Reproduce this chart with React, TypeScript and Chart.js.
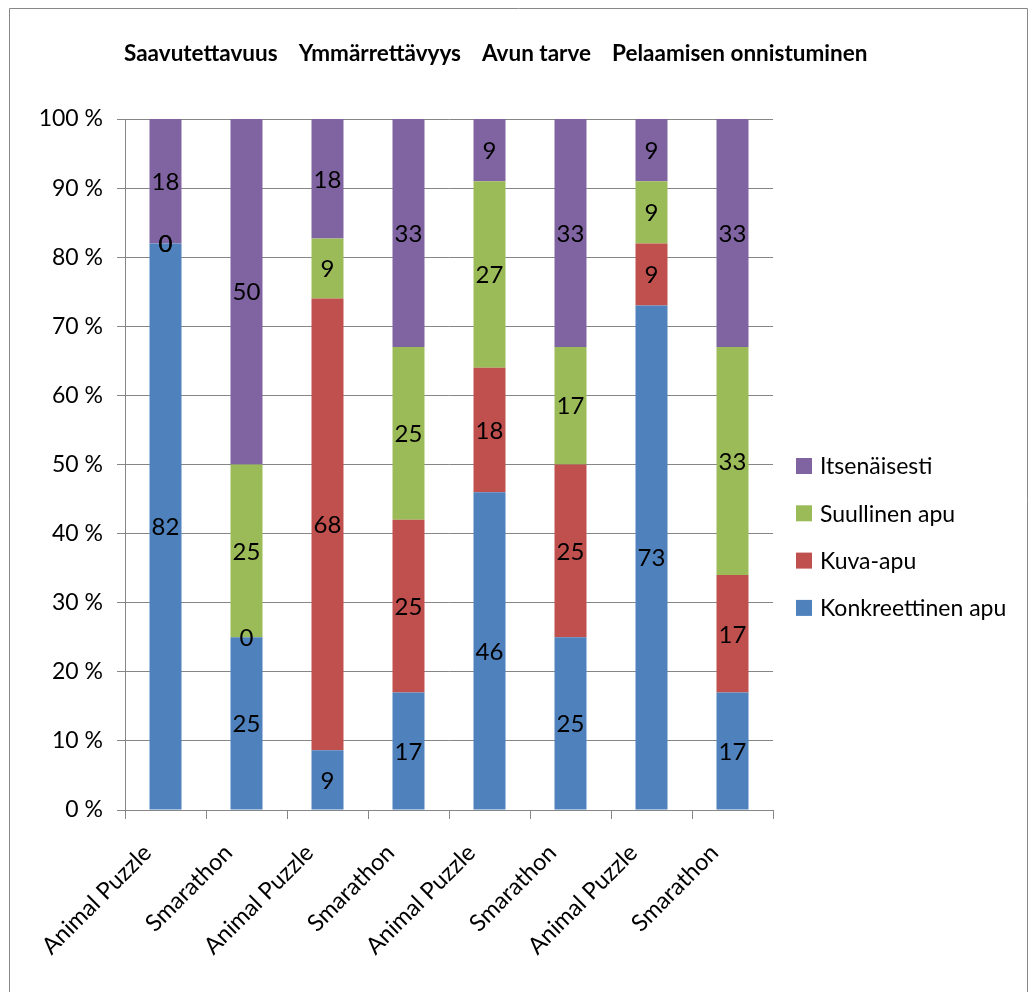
import React, { useEffect, useRef } from "react";
import { Chart, registerables } from "chart.js";

Chart.register(...registerables);

const categories = [
  "Animal Puzzle",
  "Smarathon",
  "Animal Puzzle",
  "Smarathon",
  "Animal Puzzle",
  "Smarathon",
  "Animal Puzzle",
  "Smarathon",
];

const titleParts = ["Saavutettavuus", "Ymmärrettävyys", "Avun tarve", "Pelaamisen onnistuminen"];

const konkreettinen = [82, 25, 9, 17, 46, 25, 73, 17];
const kuvaApu = [0, 0, 68, 25, 18, 25, 9, 17];
const suullinen = [0, 25, 9, 25, 27, 17, 9, 33];
const itsenaisesti = [18, 50, 18, 33, 9, 33, 9, 33];

const yTicks = [0, 10, 20, 30, 40, 50, 60, 70, 80, 90, 100];

const FONT = "Lato, 'Open Sans', sans-serif";

const series = [
  { label: "Konkreettinen apu", raw: konkreettinen, color: "#4F81BD" },
  { label: "Kuva-apu", raw: kuvaApu, color: "#C0504D" },
  { label: "Suullinen apu", raw: suullinen, color: "#9BBB59" },
  { label: "Itsenäisesti", raw: itsenaisesti, color: "#8064A2" },
];

const totals = categories.map((_, i) => series.reduce((s, d) => s + d.raw[i], 0));

const W = 1020;
const H = 984;

const labelPlugin = {
  id: "segLabels",
  afterDatasetsDraw(chart: any) {
    const ctx = chart.ctx;
    ctx.save();
    ctx.font = `24px ${FONT}`;
    ctx.fillStyle = "#000";
    ctx.textAlign = "center";
    ctx.textBaseline = "middle";
    chart.data.datasets.forEach((ds: any, di: number) => {
      const meta = chart.getDatasetMeta(di);
      meta.data.forEach((el: any, i: number) => {
        const cy = (el.y + el.base) / 2;
        ctx.fillText(String(ds.rawValues[i]), el.x, cy + 1);
      });
    });
    ctx.restore();
  },
};

const frameTitleLegendPlugin = {
  id: "frameTitleLegend",
  beforeDraw(chart: any) {
    const ctx = chart.ctx;
    ctx.save();
    ctx.fillStyle = "#fff";
    ctx.fillRect(0, 0, chart.width, chart.height);
    ctx.strokeStyle = "#878787";
    ctx.lineWidth = 1;
    ctx.beginPath();
    ctx.moveTo(1.5, chart.height);
    ctx.lineTo(1.5, 0.5);
    ctx.lineTo(chart.width - 0.5, 0.5);
    ctx.lineTo(chart.width - 0.5, chart.height);
    ctx.stroke();
    ctx.restore();
  },
  afterDraw(chart: any) {
    const ctx = chart.ctx;
    ctx.save();
    ctx.font = `bold 22.5px ${FONT}`;
    ctx.fillStyle = "#000";
    ctx.textAlign = "left";
    ctx.textBaseline = "middle";
    let x = 116;
    titleParts.forEach((t) => {
      ctx.fillText(t, x, 46);
      x += ctx.measureText(t).width + 21;
    });
    ctx.font = `23px ${FONT}`;
    const ds = chart.data.datasets.slice().reverse();
    ds.forEach((d: any, k: number) => {
      const cy = 458 + k * 47.3;
      ctx.fillStyle = d.backgroundColor;
      ctx.fillRect(788, cy - 8, 16, 16);
      ctx.fillStyle = "#000";
      ctx.fillText(d.label, 812, cy + 1);
    });
    ctx.restore();
  },
};

export default function App() {
  const ref = useRef<HTMLCanvasElement>(null);
  useEffect(() => {
    document.documentElement.style.overflow = "hidden";
    const chart = new Chart(ref.current as HTMLCanvasElement, {
      type: "bar",
      data: {
        labels: categories,
        datasets: series.map((s) => ({
          label: s.label,
          data: s.raw.map((v, i) => (v / totals[i]) * 100),
          rawValues: s.raw,
          backgroundColor: s.color,
          borderWidth: 0,
          barPercentage: 0.395,
          categoryPercentage: 1,
        })) as any,
      },
      options: {
        responsive: false,
        animation: false,
        layout: { padding: { left: 0, right: 255, top: 111, bottom: 0 } },
        plugins: {
          legend: { display: false },
          title: { display: false },
          tooltip: { enabled: false },
        },
        scales: {
          x: {
            stacked: true,
            grid: {
              display: true,
              offset: true,
              drawOnChartArea: false,
              tickLength: 9,
              color: "#868686",
            },
            border: { color: "#868686" },
            ticks: {
              font: { family: FONT, size: 23.5 },
              color: "#000",
              maxRotation: 45,
              minRotation: 45,
              padding: 20,
              labelOffset: -18,
            },
            afterFit(scale: any) {
              scale.height = H - 802;
            },
          },
          y: {
            stacked: true,
            min: 0,
            max: 100,
            grid: { color: "#868686", tickLength: 8 },
            border: { color: "#868686" },
            afterBuildTicks(scale: any) {
              scale.ticks = yTicks.map((v) => ({ value: v }));
            },
            ticks: {
              font: { family: FONT, size: 23 },
              color: "#000",
              padding: 14,
              callback: (v: any) => `${v} %`,
            },
            afterFit(scale: any) {
              scale.width = 117;
            },
          },
        },
      },
      plugins: [labelPlugin, frameTitleLegendPlugin],
    });
    return () => chart.destroy();
  }, []);
  return (
    <div style={{ position: "fixed", left: 8, top: 8, width: W, height: H }}>
      <canvas ref={ref} width={W} height={H} style={{ display: "block" }} />
    </div>
  );
}
